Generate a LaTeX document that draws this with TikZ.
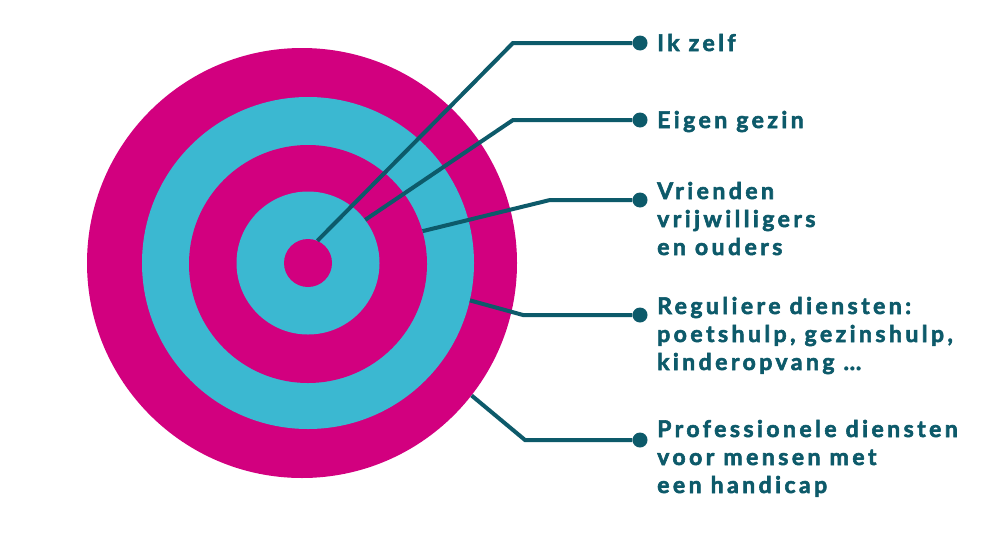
\documentclass[tikz,border=0pt]{standalone}
\usepackage{fontspec}
\setmainfont{Lato}[LetterSpace=15,BoldFeatures={FakeBold=2.5}]
\definecolor{ringmagenta}{HTML}{D2007F}
\definecolor{ringcyan}{HTML}{3BB8D1}
\definecolor{leaderteal}{HTML}{0D5A6A}
\tikzset{
  ring/.style={shape=circle,inner sep=0pt,draw=none},
  pin/.style={shape=circle,fill=leaderteal,inner sep=0pt,minimum size=15pt},
  caption/.style={anchor=base west,align=left,text=leaderteal,inner sep=0pt,
    font=\fontsize{23}{28}\selectfont\bfseries},
  leader/.style={draw=leaderteal,line width=4pt}
}
\begin{document}
\begin{tikzpicture}[x=1pt,y=-1pt]
        \fill[white] (0,0) rectangle (1000,541);
        \useasboundingbox (0,0) rectangle (1000,541);

        % the rings, outside in
        \node[ring,fill=ringmagenta,minimum size=430pt] (r1) at (302,263) {};
        \node[ring,fill=ringcyan,minimum size=332pt] (r2) at (308,263) {};
        \node[ring,fill=ringmagenta,minimum size=238pt] (r3) at (308,264) {};
        \node[ring,fill=ringcyan,minimum size=143pt] (r4) at (308,263) {};
        \node[ring,fill=ringmagenta,minimum size=48pt] (r5) at (308,263) {};

        \node[pin] (p1) at (640,43) {};
        \node[pin] (p2) at (640,120) {};
        \node[pin] (p3) at (640,200) {};
        \node[pin] (p4) at (640,315) {};
        \node[pin] (p5) at (640,440) {};

        % multi-line captions sit on the baseline of their last line
        \node[caption] (t1) at (657,51) {Ik zelf};
        \node[caption] (t2) at (657,128) {Eigen gezin};
        \node[caption] (t3) at (657,255) {Vrienden\\vrijwilligers\\en ouders};
        \node[caption] (t4) at (657,370) {Reguliere diensten:\\poetshulp, gezinshulp,\\kinderopvang \dots};
        \node[caption] (t5) at (657,493) {Professionele diensten\\voor mensen met\\een handicap};

        \coordinate (b1) at (513,43);
        \coordinate (b2) at (513,120);
        \coordinate (b3) at (550,200);
        \coordinate (b4) at (523,315);
        \coordinate (b5) at (525,440);

        \draw[leader] (r5.67) -- (b1) -- (p1);
        \draw[leader] (r4.37) -- (b2) -- (p2);
        \draw[leader] (r3.16) -- (b3) -- (p3);
        \draw[leader] (r2.-13) -- (b4) -- (p4);
        \draw[leader] (r1.-38) -- (b5) -- (p5);
    \end{tikzpicture}
\end{document}
